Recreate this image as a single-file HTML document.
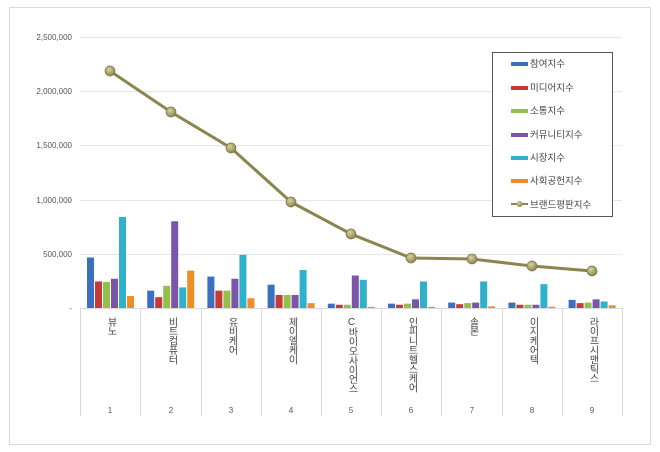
<!DOCTYPE html>
<html><head><meta charset="utf-8"><style>
body{margin:0;background:#fff;width:660px;height:452px;overflow:hidden;font-family:"Liberation Sans","Noto Sans CJK KR",sans-serif;}
.v{position:absolute;writing-mode:vertical-rl;text-orientation:upright;font-size:10px;color:#444;line-height:11px;letter-spacing:-0.6px;}
</style></head><body>
<svg width="660" height="452" style="position:absolute;left:0;top:0" font-family="Liberation Sans, Noto Sans CJK KR, sans-serif">
<defs>
<radialGradient id="mk" cx="40%" cy="35%" r="65%"><stop offset="0" stop-color="#d8d3a0"/><stop offset="1" stop-color="#8a8450"/></radialGradient>
</defs>
<rect x="9.5" y="7.5" width="641" height="437" fill="#fff" stroke="#d9d9d9"/>
<g stroke="#e6e6e6" stroke-width="1">
<line x1="80" x2="622" y1="37.5" y2="37.5"/><line x1="80" x2="622" y1="91.5" y2="91.5"/><line x1="80" x2="622" y1="145.5" y2="145.5"/><line x1="80" x2="622" y1="200.5" y2="200.5"/><line x1="80" x2="622" y1="254.5" y2="254.5"/>
</g>
<g stroke="#d9d9d9"><line x1="80" x2="622" y1="308.5" y2="308.5"/>
<line x1="80.5" x2="80.5" y1="308" y2="416"/><line x1="140.5" x2="140.5" y1="308" y2="416"/><line x1="201.5" x2="201.5" y1="308" y2="416"/><line x1="261.5" x2="261.5" y1="308" y2="416"/><line x1="321.5" x2="321.5" y1="308" y2="416"/><line x1="381.5" x2="381.5" y1="308" y2="416"/><line x1="441.5" x2="441.5" y1="308" y2="416"/><line x1="502.5" x2="502.5" y1="308" y2="416"/><line x1="562.5" x2="562.5" y1="308" y2="416"/><line x1="622.5" x2="622.5" y1="308" y2="416"/></g>
<g font-size="8" fill="#555" text-anchor="end">
<text x="72" y="40">2,500,000</text><text x="72" y="94">2,000,000</text><text x="72" y="148">1,500,000</text><text x="72" y="203">1,000,000</text><text x="72" y="257">500,000</text><text x="72" y="311">-</text>
</g>
<g font-size="8" fill="#555" text-anchor="middle">
<text x="110" y="413">1</text><text x="171" y="413">2</text><text x="231" y="413">3</text><text x="291" y="413">4</text><text x="351" y="413">5</text><text x="411" y="413">6</text><text x="472" y="413">7</text><text x="532" y="413">8</text><text x="592" y="413">9</text>
</g>
<g id="bars"></g>
<polyline fill="none" stroke="#8b8550" stroke-width="3" points="110,71 171,112 231,148 291,202 351,234 411,258 472,259 532,266 592,271"/>
<g fill="url(#mk)" stroke="#7a7445" stroke-width="0.7">
<circle cx="110" cy="71" r="5"/><circle cx="171" cy="112" r="5"/><circle cx="231" cy="148" r="5"/><circle cx="291" cy="202" r="5"/><circle cx="351" cy="234" r="5"/><circle cx="411" cy="258" r="5"/><circle cx="472" cy="259" r="5"/><circle cx="532" cy="266" r="5"/><circle cx="592" cy="271" r="5"/>
</g>
<rect x="492.5" y="52.5" width="120" height="164" fill="#fff" stroke="#555"/>
<g font-size="9.5" fill="#444">
<rect x="511" y="62" width="17" height="4" fill="#3b6fc0"/><text x="530" y="67">참여지수</text>
<rect x="511" y="86" width="17" height="4" fill="#c83a3a"/><text x="530" y="91">미디어지수</text>
<rect x="511" y="109" width="17" height="4" fill="#93c04a"/><text x="530" y="114">소통지수</text>
<rect x="511" y="133" width="17" height="4" fill="#7d55a8"/><text x="530" y="138">커뮤니티지수</text>
<rect x="511" y="156" width="17" height="4" fill="#2fb1cc"/><text x="530" y="161">시장지수</text>
<rect x="511" y="179" width="17" height="4" fill="#ee8e25"/><text x="530" y="184">사회공헌지수</text>
<line x1="511" x2="528" y1="204" y2="204" stroke="#8b8550" stroke-width="2"/><circle cx="519.5" cy="204" r="3" fill="url(#mk)"/><text x="530" y="208">브랜드평판지수</text>
</g>
</svg>
<div class="v" style="left:105px;top:317px">뷰노</div>
<div class="v" style="left:166px;top:317px">비트컴퓨터</div>
<div class="v" style="left:226px;top:317px">유비케어</div>
<div class="v" style="left:286px;top:317px">제이엘케이</div>
<div class="v" style="left:346px;top:317px">C바이오사이언스</div>
<div class="v" style="left:406px;top:317px">인피니트헬스케어</div>
<div class="v" style="left:467px;top:317px">솔본</div>
<div class="v" style="left:527px;top:317px">이지케어텍</div>
<div class="v" style="left:587px;top:317px">라이프시맨틱스</div>
<script>
var d=[[466,245,240,270,840,110],[160,100,205,800,190,345],[290,160,160,270,490,90],[215,120,120,120,350,45],[40,30,30,300,260,10],[40,30,40,80,245,10],[50,35,45,50,245,15],[50,30,30,30,220,12],[75,45,50,80,60,25]];
var c=["#3b6fc0","#c83a3a","#93c04a","#7d55a8","#2fb1cc","#ee8e25"];
var s="";
for(var i=0;i<9;i++){var x0=80+i*60.2+7;for(var j=0;j<6;j++){var h=d[i][j]*0.1084;s+='<rect x="'+(x0+j*8)+'" y="'+(308-h)+'" width="7" height="'+h+'" fill="'+c[j]+'"/>';}}
document.getElementById("bars").innerHTML=s;
</script>
</body></html>
